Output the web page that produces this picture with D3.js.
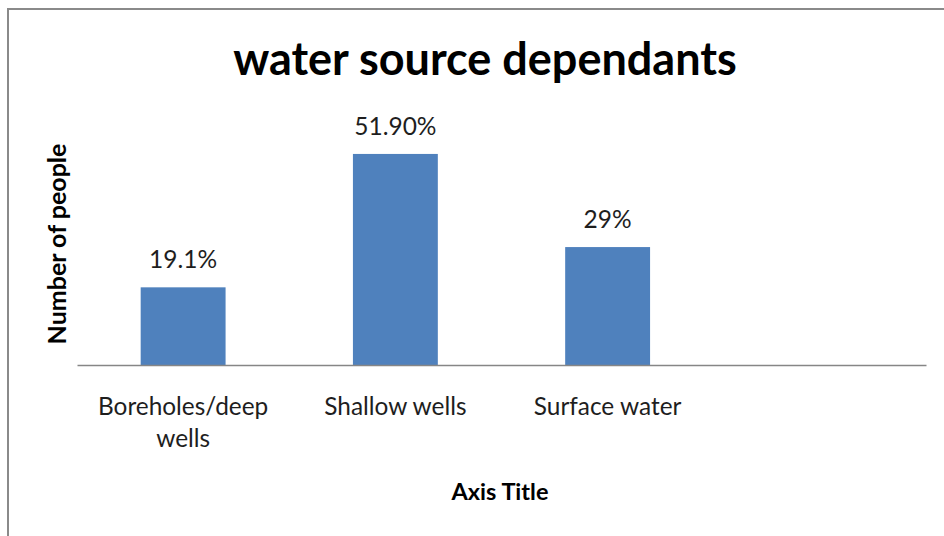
<!DOCTYPE html>
<html>
<head>
<meta charset="utf-8">
<script src="https://cdn.jsdelivr.net/npm/d3@7"></script>
<style>
  body { margin: 0; background: #fff; }
  text { font-family: Lato, "Open Sans", sans-serif; fill: #1e1e1e; }
</style>
</head>
<body>
<div id="chart"></div>
<script>
// chart data
const categories = ["Boreholes/deep wells", "Shallow wells", "Surface water", ""];
const values = [19.1, 51.9, 29];
const valueLabels = ["19.1%", "51.90%", "29%"];
const yDomain = [0, 60];

const w = 944;
const h = 536;

const svg = d3.select("#chart")
  .append("svg")
  .attr("width", w)
  .attr("height", h);

// outer chart frame (runs off the right and bottom edge)
svg.append("rect")
  .attr("x", 8)
  .attr("y", 9)
  .attr("width", w + 20)
  .attr("height", h + 20)
  .attr("fill", "none")
  .attr("stroke", "#8a8a8a")
  .attr("stroke-width", 2);

const xScale = d3.scaleBand()
  .domain(categories)
  .range([77, 926])
  .paddingInner(0.6)
  .paddingOuter(0.3);

const yScale = d3.scaleLinear()
  .domain(yDomain)
  .range([365, 121]);

// title
svg.append("text")
  .attr("x", 485)
  .attr("y", 75)
  .attr("text-anchor", "middle")
  .style("font-size", "45px")
  .style("font-weight", "bold")
  .style("fill", "#000")
  .text("water source dependants");

// bars
svg.selectAll(".bar")
  .data(values)
  .enter()
  .append("rect")
  .attr("class", "bar")
  .attr("x", (d, i) => xScale(categories[i]))
  .attr("y", d => yScale(d))
  .attr("width", xScale.bandwidth())
  .attr("height", d => yScale(0) - yScale(d))
  .attr("fill", "#4f81bd");

// value labels
svg.selectAll(".val")
  .data(values)
  .enter()
  .append("text")
  .attr("class", "val")
  .attr("x", (d, i) => xScale(categories[i]) + xScale.bandwidth() / 2)
  .attr("y", d => yScale(d) - 19)
  .attr("text-anchor", "middle")
  .style("font-size", "24.5px")
  .text((d, i) => valueLabels[i]);

// x axis: baseline and category labels
const xAxis = d3.axisBottom(xScale).tickSize(0).tickPadding(0);

const gx = svg.append("g")
  .attr("transform", "translate(0," + yScale(0) + ")")
  .call(xAxis);

gx.select(".domain")
  .attr("stroke", "#868686")
  .attr("stroke-width", 1.5);

gx.selectAll(".tick text")
  .attr("fill", null)
  .style("font-family", null)
  .style("font-size", "24.4px")
  .attr("y", 50)
  .attr("dy", 0)
  .call(wrap, xScale.step() * 0.9);

function wrap(texts, width) {
  texts.each(function() {
    const text = d3.select(this);
    const words = text.text().split(/\s+/);
    let line = [];
    let lineNo = 0;
    const y = text.attr("y");
    let tspan = text.text(null).append("tspan").attr("x", 0).attr("y", y);
    words.forEach(word => {
      line.push(word);
      tspan.text(line.join(" "));
      if (tspan.node().getComputedTextLength() > width && line.length > 1) {
        line.pop();
        tspan.text(line.join(" "));
        line = [word];
        lineNo++;
        tspan = text.append("tspan")
          .attr("x", 0)
          .attr("y", +y + lineNo * 32)
          .text(word);
      }
    });
  });
}

// axis titles
svg.append("text")
  .attr("transform", "translate(66,244) rotate(-90)")
  .attr("text-anchor", "middle")
  .style("font-size", "25px")
  .style("font-weight", "bold")
  .style("fill", "#000")
  .text("Number of people");

svg.append("text")
  .attr("x", 500)
  .attr("y", 500)
  .attr("text-anchor", "middle")
  .style("font-size", "23.5px")
  .style("font-weight", "bold")
  .style("fill", "#000")
  .text("Axis Title");
</script>
</body>
</html>
